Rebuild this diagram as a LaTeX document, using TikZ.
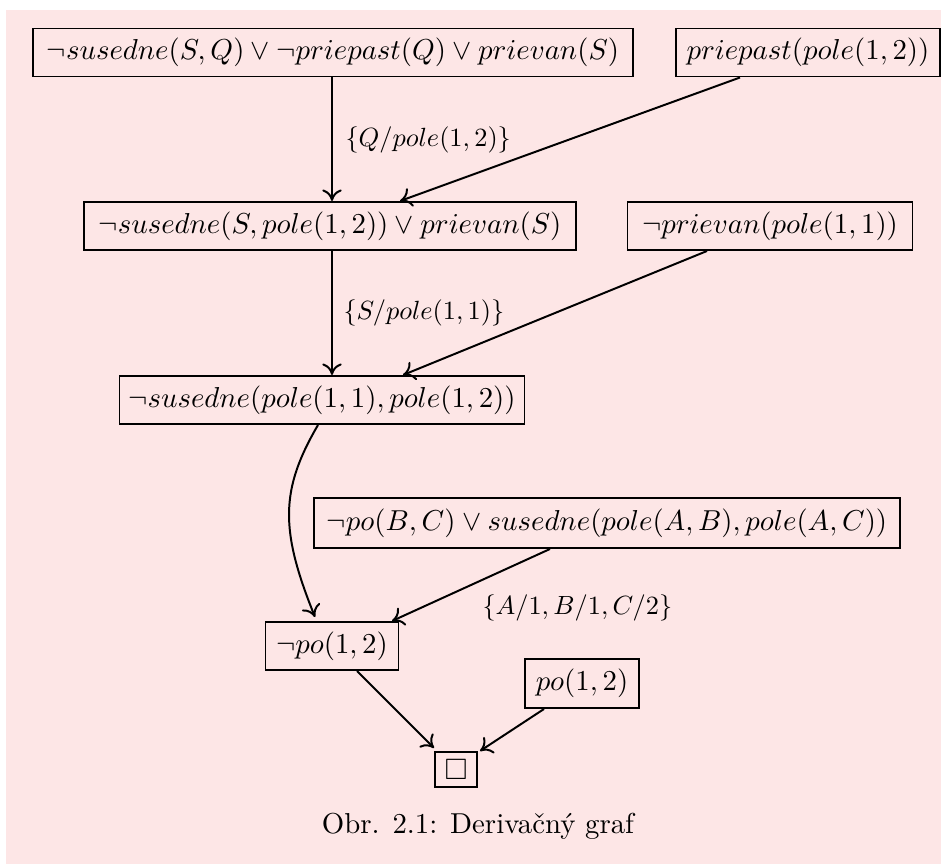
\documentclass[tikz,border=0pt]{standalone}
\usepackage{amssymb}
\usetikzlibrary{calc,arrows.meta}
\definecolor{bgpink}{RGB}{253,230,230}
\def\pxu{0.38pt}
\tikzset{
  clause/.style={draw, line width=0.75pt, inner sep=0pt, minimum height={48*\pxu}, anchor=center,
    font=\fontsize{11.2}{13.5}\selectfont},
  arr/.style={line width=0.75pt, -{To[length=4.4pt,width=7.4pt]}},
  subst/.style={anchor=west, inner sep=0pt, font=\fontsize{10.2}{12}\selectfont}
}
\begin{document}
\begin{tikzpicture}[x=\pxu, y=-\pxu]
  \useasboundingbox (0,0) rectangle (941,864);
  \fill[bgpink] (6,10) rectangle (941,864);

  % clauses
  \node[clause, minimum width={600*\pxu}] (A) at (333,52.5) {$\neg susedne(S,Q) \vee \neg priepast(Q) \vee prievan(S)$};
  \node[clause, minimum width={264*\pxu}] (B) at (808,52.5) {$priepast(pole(1,2))$};
  \node[clause, minimum width={492*\pxu}] (C) at (330,226) {$\neg susedne(S,pole(1,2)) \vee prievan(S)$};
  \node[clause, minimum width={285*\pxu}] (D) at (770,226) {$\neg prievan(pole(1,1))$};
  \node[clause, minimum width={405*\pxu}] (E) at (322,400) {$\neg susedne(pole(1,1),pole(1,2))$};
  \node[clause, minimum width={586*\pxu}, minimum height={50*\pxu}] (F) at (607,523) {$\neg po(B,C) \vee susedne(pole(A,B),pole(A,C))$};
  \node[clause, minimum width={133*\pxu}] (G) at (332,646) {$\neg po(1,2)$};
  \node[clause, minimum width={114*\pxu}, minimum height={49*\pxu}] (H) at (582,683.5) {$po(1,2)$};
  \node[clause, minimum width={42*\pxu}, minimum height={35*\pxu}] (I) at (456,769.5) {$\square$};

  % substitution labels
  \node[subst] (s1) at (345,140) {$\{Q/pole(1,2)\}$};
  \node[subst] (s2) at (343,313) {$\{S/pole(1,1)\}$};
  \node[subst] (s3) at (482,608) {$\{A/1,B/1,C/2\}$};

  % resolution steps
  \coordinate (col) at (332,0);
  \draw[arr] (A.south -| col) -- (C.north -| col);
  \draw[arr] ($(B.south)+(-68,0)$) -- ($(C.north)+(70,0)$);
  \draw[arr] (C.south -| col) -- (E.north -| col);
  \draw[arr] ($(D.south)+(-63,0)$) -- ($(E.north)+(81,0)$);
  \draw[arr] ($(E.south)+(-4,0)$) .. controls (280,490) and (280,530) .. ($(G.north)+(-17,-4)$);
  \draw[arr] ($(F.south)+(-57,0)$) -- ($(G.north)+(60,0)$);
  \draw[arr] ($(G.south)+(25,0)$) -- ($(I.north west)+(0,-3)$);
  \draw[arr] ($(H.south)+(-38,0)$) -- ($(I.north east)+(2,0)$);

  % caption
  \node[font=\fontsize{10.95}{13}\selectfont] (cap) at (478,826) {Obr. 2.1: Derivačný graf};
\end{tikzpicture}
\end{document}
